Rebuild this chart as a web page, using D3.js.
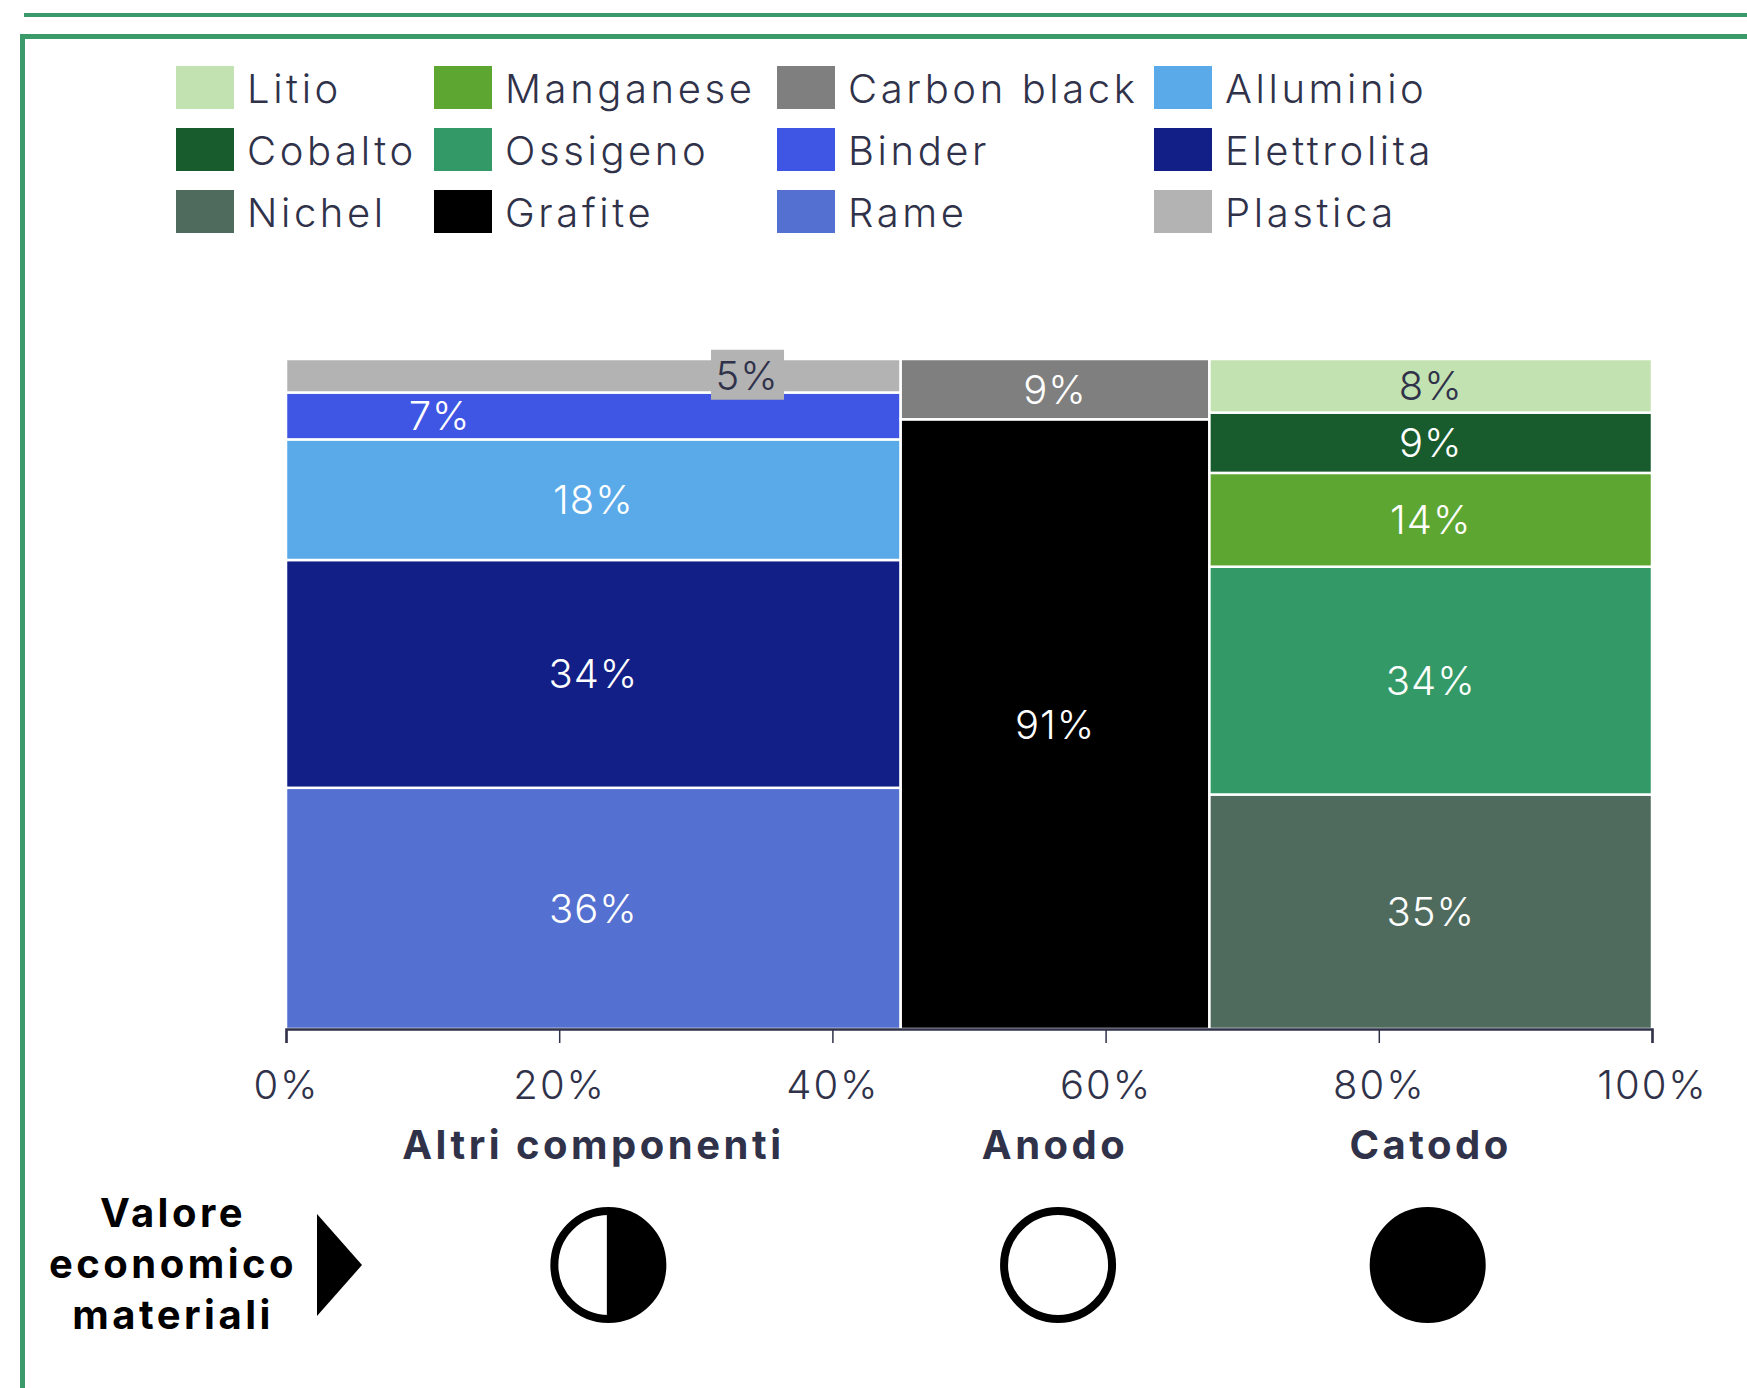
<!DOCTYPE html>
<html>
<head>
<meta charset="utf-8">
<script src="https://cdn.jsdelivr.net/npm/d3@7"></script>
<style>
  html, body { margin: 0; padding: 0; background: #ffffff; }
  svg { display: block; }
  text { font-family: Inter, "Open Sans", sans-serif; }
</style>
</head>
<body>
<svg id="chart" width="1747" height="1388"></svg>
<script>
// Battery components: share of the pack (column width) and material mix (stack height)
const components = ["Altri componenti", "Anodo", "Catodo"];
const componentShare = [45, 22.6, 32.4];

const altriMaterials = ["Rame", "Elettrolita", "Alluminio", "Binder", "Plastica"];
const altriValues = [36, 34, 18, 7, 5];
const anodoMaterials = ["Grafite", "Carbon black"];
const anodoValues = [91, 9];
const catodoMaterials = ["Nichel", "Ossigeno", "Manganese", "Cobalto", "Litio"];
const catodoValues = [35, 34, 14, 9, 8];

// Economic value of materials: 0 = low, 0.5 = medium, 1 = high
const economicValue = [0.5, 0, 1];

// Legend order (row by row) and material colours
const legendMaterials = [
  "Litio", "Manganese", "Carbon black", "Alluminio",
  "Cobalto", "Ossigeno", "Binder", "Elettrolita",
  "Nichel", "Grafite", "Rame", "Plastica"
];
const legendColors = [
  "#c3e2b1", "#5ea632", "#7f7f7f", "#5aaae9",
  "#185c2e", "#339966", "#3f55e4", "#121f86",
  "#4f6b5d", "#000000", "#5470d0", "#b3b3b3"
];

const xTicks = [0, 20, 40, 60, 80, 100];

// ---------------------------------------------------------------
const svg = d3.select("#chart");
const ink = "#30324a";
const green = "#3a9a6a";
const color = d3.scaleOrdinal(legendMaterials, legendColors);
const darkLabel = new Set(["Litio", "Plastica"]);

const x = d3.scaleLinear([0, 100], [286, 1652]);
const y = d3.scaleLinear([0, 100], [1029, 359]);

// frame
svg.append("rect").attr("x", 24).attr("y", 13).attr("width", 1730).attr("height", 4).attr("fill", green);
svg.append("path")
  .attr("d", "M22.5,1400 L22.5,36.5 L1760,36.5")
  .attr("fill", "none").attr("stroke", green).attr("stroke-width", 5);

// legend
const legend = svg.append("g").attr("class", "legend");
const colX = [176, 434, 777, 1154];
const rowY = [66, 128, 190];
legendMaterials.forEach((m, i) => {
  const g = legend.append("g")
    .attr("transform", `translate(${colX[i % 4]},${rowY[Math.floor(i / 4)]})`);
  g.append("rect").attr("width", 58).attr("height", 43).attr("fill", color(m));
  g.append("text").attr("x", 71).attr("y", 37)
    .attr("font-size", 40).attr("font-weight", 300)
    .attr("letter-spacing", 3.6)
    .attr("fill", ink).text(m);
});

// columns
const stacks = [
  { mats: altriMaterials, vals: altriValues },
  { mats: anodoMaterials, vals: anodoValues },
  { mats: catodoMaterials, vals: catodoValues }
];
const colStart = d3.cumsum([0, ...componentShare]);
const columns = components.map((c, i) => {
  const ends = d3.cumsum(stacks[i].vals);
  return {
    name: c,
    x0: colStart[i],
    x1: colStart[i] + componentShare[i],
    value: economicValue[i],
    segs: stacks[i].mats.map((m, j) => ({ mat: m, v: stacks[i].vals[j], y0: ends[j] - stacks[i].vals[j], y1: ends[j] }))
  };
});

// small neighbouring labels in the first column are moved sideways
const labelShift = { Binder: 0.25, Plastica: 0.75 };

const plot = svg.append("g");
columns.forEach(col => {
  const g = plot.append("g");
  g.selectAll("rect").data(col.segs).join("rect")
    .attr("x", x(col.x0))
    .attr("width", x(col.x1) - x(col.x0))
    .attr("y", d => y(d.y1))
    .attr("height", d => y(d.y0) - y(d.y1))
    .attr("fill", d => color(d.mat))
    .attr("stroke", "#ffffff").attr("stroke-width", 2.5);

  col.segs.forEach(d => {
    const f = labelShift[d.mat] ?? 0.5;
    const cx = x(col.x0 + (col.x1 - col.x0) * f);
    const cy = (y(d.y0) + y(d.y1)) / 2;
    if (d.mat === "Plastica") {
      g.append("rect").attr("x", cx - 36).attr("y", cy - 26)
        .attr("width", 73).attr("height", 50).attr("fill", color(d.mat));
    }
    g.append("text").attr("x", cx).attr("y", cy).attr("dy", "0.36em")
      .attr("text-anchor", "middle")
      .attr("font-size", 40).attr("font-weight", 300).attr("letter-spacing", 1)
      .attr("fill", darkLabel.has(d.mat) ? ink : "#ffffff")
      .text(d.v + "%");
  });
});

// x axis
const axis = svg.append("g").attr("transform", `translate(0,${y(0)})`)
  .call(d3.axisBottom(x).tickValues(xTicks).tickFormat(d => d + "%").tickSize(14).tickPadding(28));
axis.select(".domain").attr("stroke", ink).attr("stroke-width", 2.5);
axis.selectAll(".tick line").attr("stroke", ink).attr("stroke-width", 1.5);
axis.selectAll(".tick text")
  .attr("font-family", "Inter, sans-serif")
  .attr("font-size", 40).attr("font-weight", 300).attr("letter-spacing", 2)
  .attr("fill", ink);

// component names
svg.append("g").selectAll("text").data(columns).join("text")
  .attr("x", d => x((d.x0 + d.x1) / 2))
  .attr("y", 1159)
  .attr("text-anchor", "middle")
  .attr("font-size", 40).attr("font-weight", 700).attr("letter-spacing", 3.5)
  .attr("fill", ink)
  .text(d => d.name);

// economic value row
const valueTitle = ["Valore", "economico", "materiali"];
svg.append("g").selectAll("text").data(valueTitle).join("text")
  .attr("x", 173)
  .attr("y", (d, i) => 1227 + i * 51)
  .attr("text-anchor", "middle")
  .attr("font-size", 40).attr("font-weight", 700).attr("letter-spacing", 3.5)
  .attr("fill", "#000000")
  .text(d => d);
svg.append("path").attr("d", "M317,1214 L362,1265 L317,1316 Z").attr("fill", "#000000");

// markers sit a little off the column centres
const markerNudge = [15, 3, -3];
const r = 54;
const markers = svg.append("g").selectAll("g").data(columns).join("g")
  .attr("transform", (d, i) => `translate(${x((d.x0 + d.x1) / 2) + markerNudge[i]},1265)`);
markers.append("circle").attr("r", r)
  .attr("fill", d => d.value === 1 ? "#000000" : "#ffffff")
  .attr("stroke", "#000000").attr("stroke-width", 8);
markers.filter(d => d.value === 0.5).append("path")
  .attr("d", d3.arc()({ innerRadius: 0, outerRadius: r, startAngle: 0, endAngle: Math.PI }))
  .attr("fill", "#000000");
markers.filter(d => d.value === 0.5).append("line")
  .attr("y1", -r).attr("y2", r).attr("stroke", "#000000").attr("stroke-width", 3);
</script>
</body>
</html>
